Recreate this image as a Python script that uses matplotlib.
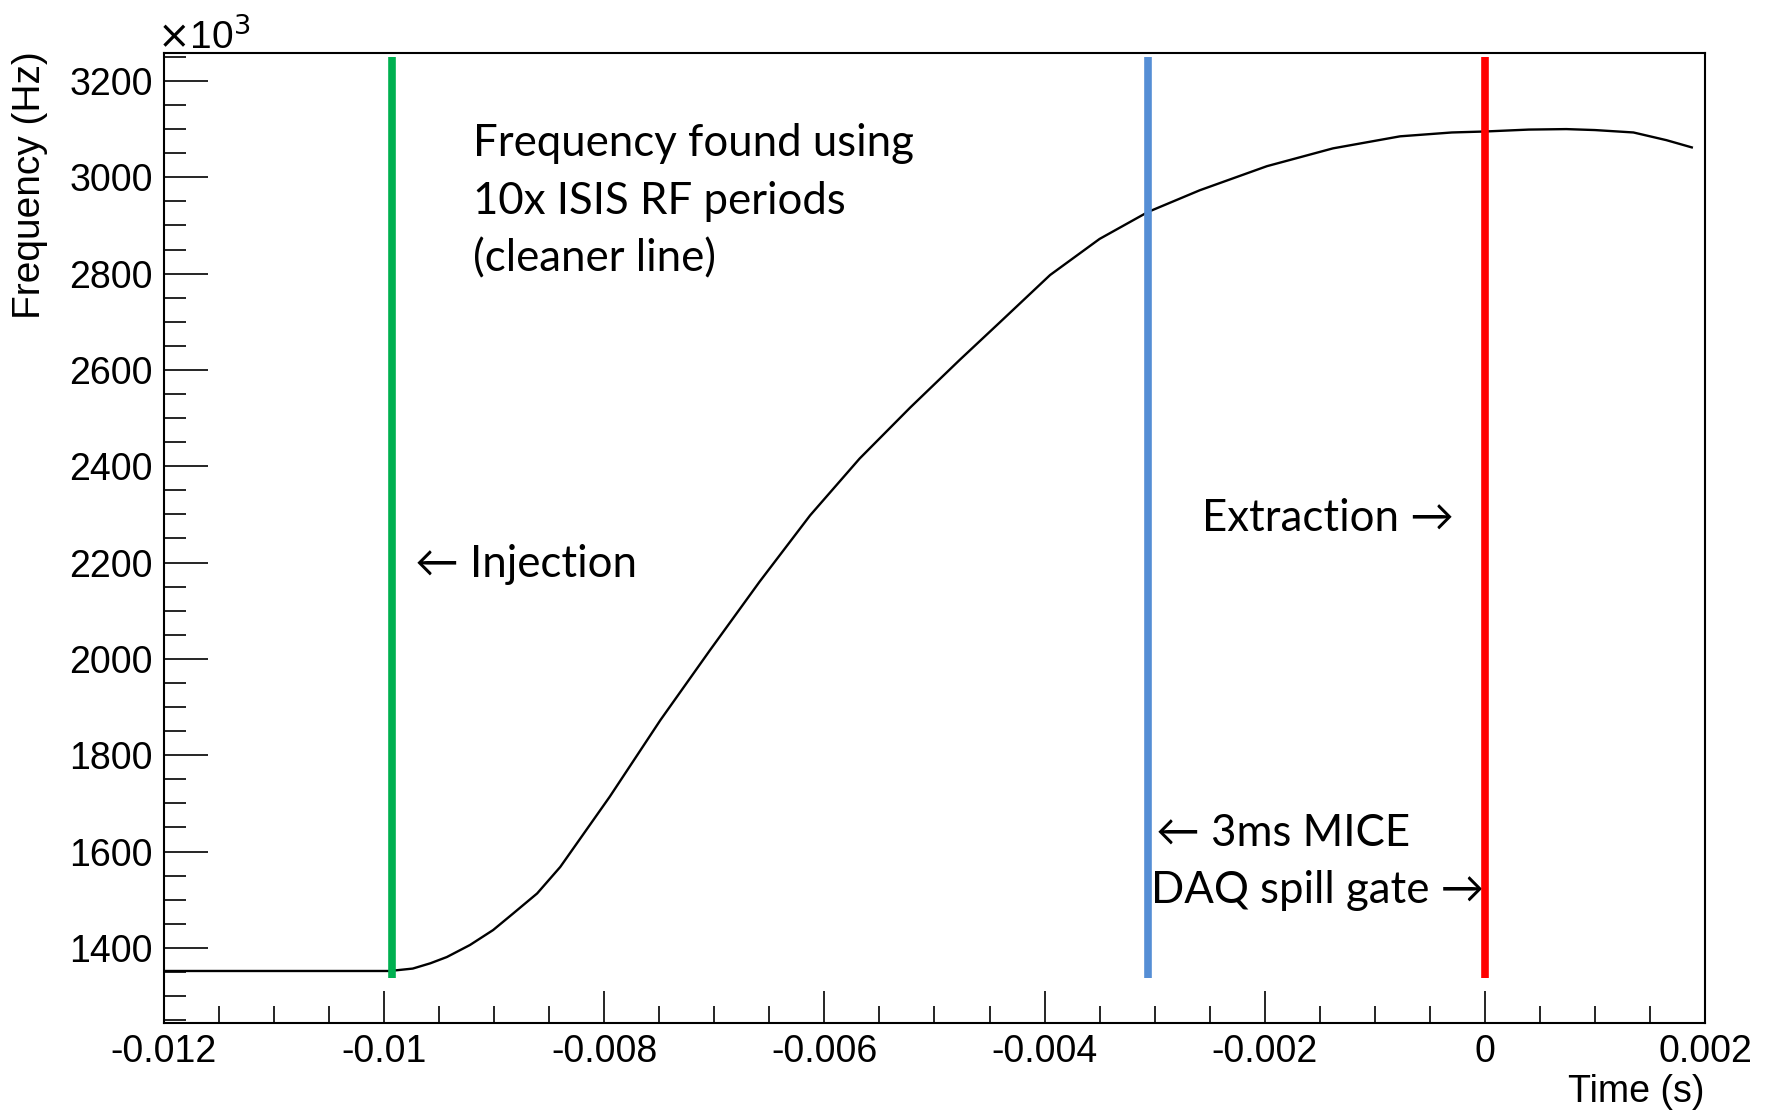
import matplotlib
matplotlib.use("Agg")
import matplotlib.pyplot as plt

# ---------------- data ----------------
time_s = [-0.01198, -0.0110, -0.0104, -0.00995, -0.00974, -0.00958, -0.00943,
          -0.00922, -0.00901, -0.00883, -0.00861, -0.00840, -0.00795, -0.00749,
          -0.00704, -0.00659, -0.00613, -0.00568, -0.00522, -0.00477, -0.00441,
          -0.00395, -0.00350, -0.00306, -0.00259, -0.00198, -0.00138, -0.00077,
          -0.00030, 0.0, 0.00040, 0.00074, 0.00100, 0.00135, 0.00165, 0.00188]
freq_khz = [1352, 1352, 1352, 1352, 1357, 1368, 1381,
            1406, 1437, 1471, 1513, 1568, 1714, 1873,
            2018, 2160, 2298, 2416, 2522, 2621, 2698,
            2797, 2872, 2928, 2973, 3023, 3060, 3085,
            3093, 3095, 3099, 3100, 3098, 3093, 3077, 3062]

marker_times = [-0.00993, -0.00306, 0.0]
marker_colors = ["#00B050", "#558ED5", "#FF0000"]
marker_ymin, marker_ymax = 1337, 3250

xticks = [-0.012, -0.010, -0.008, -0.006, -0.004, -0.002, 0.0, 0.002]
xtick_labels = ["-0.012", "-0.01", "-0.008", "-0.006", "-0.004", "-0.002", "0", "0.002"]
yticks = [1400, 1600, 1800, 2000, 2200, 2400, 2600, 2800, 3000, 3200]
ytick_labels = [str(v) for v in yticks]

# ---------------- figure ----------------
W, H = 1773, 1112
fig = plt.figure(figsize=(W / 100, H / 100), dpi=100)
L, R, T, B = 164, 1705, 53, 1023
ax = fig.add_axes([L / W, (H - B) / H, (R - L) / W, (B - T) / H])

ax.set_xlim(-0.012, 0.002)
ax.set_ylim(1244, 3258)

ax.plot(time_s, freq_khz, color="black", lw=1.7, zorder=3)
ax.vlines(marker_times, marker_ymin, marker_ymax, colors=marker_colors, lw=5.5, zorder=4)

tick_font = dict(family="Liberation Sans", size=27)
ax.set_xticks(xticks)
ax.set_xticklabels(xtick_labels, **tick_font)
ax.set_yticks(yticks)
ax.set_yticklabels(ytick_labels, **tick_font)
ax.set_xticks([x / 10000 for x in range(-120, 21, 5)], minor=True)
ax.set_yticks(list(range(1250, 3260, 50)), minor=True)

ax.tick_params(axis="y", which="major", direction="in", length=31.5, width=1.2, pad=8)
ax.tick_params(axis="y", which="minor", direction="in", length=15.8, width=1.2)
ax.tick_params(axis="x", which="major", direction="in", length=23, width=1.2, pad=8)
ax.tick_params(axis="x", which="minor", direction="in", length=12.5, width=1.2)
ax.tick_params(top=False, right=False, which="both")

for s in ax.spines.values():
    s.set_linewidth(1.5)
    s.set_color("black")

# axis titles (ROOT style)
fig.text(30 / W, 1 - 51 / H, "Frequency (Hz)", rotation=90, ha="center", va="top",
         family="Liberation Sans", size=28)
fig.text(R / W, 1 - 1092 / H, "Time (s)", ha="right", va="center",
         family="Liberation Sans", size=27)
fig.text(157 / W, 1 - 37 / H, r"$\times$10$^{3}$", ha="left", va="center",
         family="Liberation Sans", size=28)

ann_font = dict(family=["Lato", "DejaVu Sans"], size=31.5)
ax.text(0.2005, 0.894, "Frequency found using", transform=ax.transAxes, va="baseline", **ann_font)
ax.text(0.2005, 0.834, "10x ISIS RF periods", transform=ax.transAxes, va="baseline", **ann_font)
ax.text(0.2005, 0.775, "(cleaner line)", transform=ax.transAxes, va="baseline", **ann_font)
ax.text(0.163, 0.46, "\u2190 Injection", transform=ax.transAxes, va="baseline", **ann_font)
ax.text(0.6736, 0.507, "Extraction \u2192", transform=ax.transAxes, va="baseline", **ann_font)
ax.text(0.6437, 0.1825, "\u2190 3ms MICE", transform=ax.transAxes, va="baseline", **ann_font)
ax.text(0.6405, 0.1237, "DAQ spill gate \u2192", transform=ax.transAxes, va="baseline", **ann_font)

fig.savefig("out.png", dpi=100)
